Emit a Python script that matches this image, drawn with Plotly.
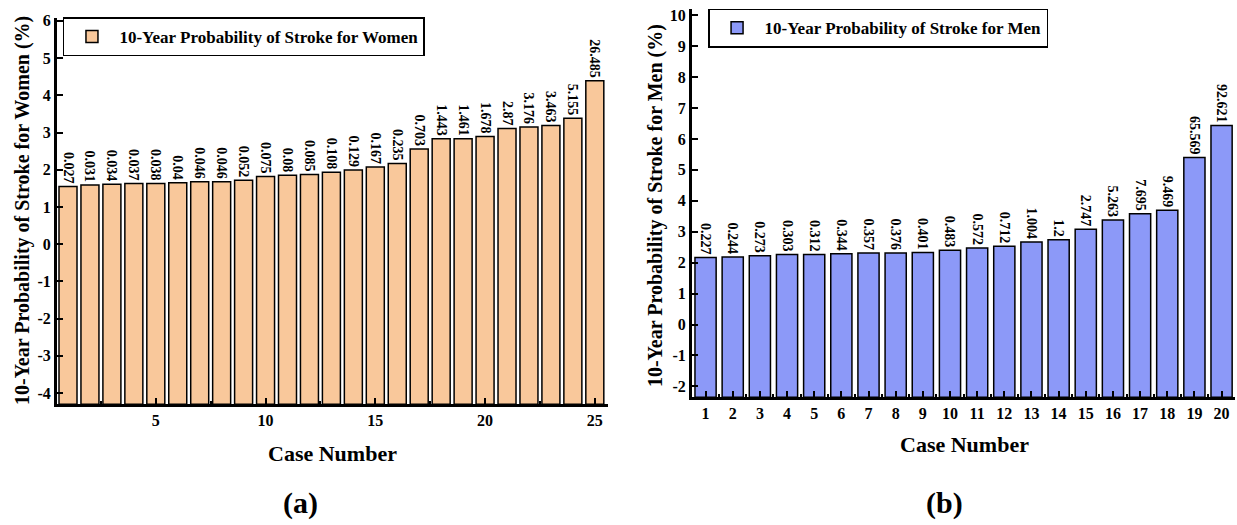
import plotly.graph_objects as go

# ---------------- data ----------------
women_cases = list(range(1, 26))
women_heights = [1.55, 1.59, 1.61, 1.63, 1.63, 1.65, 1.68, 1.68, 1.72, 1.82,
                 1.85, 1.87, 1.93, 1.99, 2.07, 2.17, 2.56, 2.83, 2.83, 2.89,
                 3.11, 3.15, 3.19, 3.38, 4.39]
women_labels = ["0.027", "0.031", "0.034", "0.037", "0.038", "0.04", "0.046", "0.046",
                "0.052", "0.075", "0.08", "0.085", "0.108", "0.129", "0.167", "0.235",
                "0.703", "1.443", "1.461", "1.678", "2.87", "3.176", "3.463", "5.155",
                "26.485"]

men_cases = list(range(1, 21))
men_heights = [2.17, 2.18, 2.22, 2.26, 2.26, 2.29, 2.31, 2.31, 2.33, 2.40,
               2.47, 2.53, 2.67, 2.74, 3.08, 3.38, 3.58, 3.69, 5.40, 6.43]
men_labels = ["0.227", "0.244", "0.273", "0.303", "0.312", "0.344", "0.357", "0.376",
              "0.401", "0.483", "0.572", "0.712", "1.004", "1.2", "2.747", "5.263",
              "7.695", "9.469", "65.569", "92.621"]

women_ticks = [5, 10, 15, 20, 25]
women_yticks = list(range(-4, 7))
men_yticks = list(range(-2, 11))

WOMEN_BASE = -4.3
MEN_BASE = -2.35

FONT = "Liberation Serif, Times New Roman, serif"
W_COLOR = "#F9C89B"
M_COLOR = "#8C99F8"

fig = go.Figure()

fig.add_trace(go.Bar(
    x=women_cases, y=[h - WOMEN_BASE for h in women_heights], base=WOMEN_BASE,
    marker=dict(color=W_COLOR, line=dict(color="black", width=1.5)),
    width=0.82,
    text=women_labels, textposition="outside", textangle=90,
    constraintext="none", cliponaxis=False,
    textfont=dict(family=FONT, size=14, color="black", weight="bold"),
    name="10-Year Probability of Stroke for Women",
    xaxis="x", yaxis="y", legend="legend",
))

fig.add_trace(go.Bar(
    x=men_cases, y=[h - MEN_BASE for h in men_heights], base=MEN_BASE,
    marker=dict(color=M_COLOR, line=dict(color="black", width=1.5)),
    width=0.78,
    text=men_labels, textposition="outside", textangle=90,
    constraintext="none", cliponaxis=False,
    textfont=dict(family=FONT, size=14, color="black", weight="bold"),
    name="10-Year Probability of Stroke for Men",
    xaxis="x2", yaxis="y2", legend="legend2",
))

tickfont = dict(family=FONT, size=16, color="black", weight="bold")
axis_common = dict(
    showline=True, linecolor="black", linewidth=3, mirror=False,
    ticks="inside", ticklen=6, tickwidth=2, tickcolor="black",
    showgrid=False, zeroline=False, tickfont=tickfont,
)
frame_common = dict(showline=True, linecolor="black", linewidth=1.5,
                    showticklabels=False, ticks="", showgrid=False, zeroline=False)

W_XDOM = [0.0461, 0.4915]
W_YDOM = [0.2324, 0.9752]
M_XDOM = [0.5594, 0.9985]
M_YDOM = [0.2457, 0.9924]
W_XR = [0.5, 25.6]
W_YR = [WOMEN_BASE, 6.08]
M_XR = [0.5, 20.5]
M_YR = [MEN_BASE, 10.2]

legend_font = dict(family=FONT, size=17, color="black", weight="bold")

fig.update_layout(
    width=1237, height=525,
    margin=dict(l=0, r=0, t=0, b=0),
    paper_bgcolor="white", plot_bgcolor="white",
    barmode="overlay",
    xaxis=dict(domain=W_XDOM, range=W_XR, tickvals=women_ticks, anchor="y",
               minor=dict(ticks="inside", dtick=2.5, tick0=0, ticklen=3,
                          tickwidth=1.5, tickcolor="black", showgrid=False),
               **axis_common),
    yaxis=dict(domain=W_YDOM, range=W_YR, tickvals=women_yticks,
               ticktext=[str(v) for v in women_yticks], anchor="x", **axis_common),
    xaxis2=dict(domain=M_XDOM, range=M_XR, tickvals=men_cases, anchor="y2",
                minor=dict(ticks="inside", dtick=0.5, tick0=0, ticklen=3,
                           tickwidth=1.5, tickcolor="black", showgrid=False),
                **axis_common),
    yaxis2=dict(domain=M_YDOM, range=M_YR, tickvals=men_yticks,
                ticktext=[str(v) for v in men_yticks], anchor="x2", **axis_common),
    # thin top/right frame lines
    xaxis3=dict(domain=W_XDOM, range=W_XR, overlaying="x", side="top", anchor="y", **frame_common),
    yaxis3=dict(domain=W_YDOM, range=W_YR, overlaying="y", side="right", anchor="x", **frame_common),
    xaxis4=dict(domain=M_XDOM, range=M_XR, overlaying="x2", side="top", anchor="y2", **frame_common),
    yaxis4=dict(domain=M_YDOM, range=M_YR, overlaying="y2", side="right", anchor="x2", **frame_common),
    legend=dict(x=0.0509, y=0.976, xanchor="left", yanchor="top", itemwidth=45,
                bgcolor="white", bordercolor="black", borderwidth=1.5, font=legend_font),
    legend2=dict(x=0.5724, y=0.993, xanchor="left", yanchor="top", itemwidth=45,
                 bgcolor="white", bordercolor="black", borderwidth=1.5, font=legend_font),
    showlegend=True,
)

title_font = dict(family=FONT, size=20, color="black", weight="bold")
case_font = dict(family=FONT, size=22, color="black", weight="bold")
big_font = dict(family=FONT, size=30, color="black", weight="bold")

anns = [
    dict(text="10-Year Probability of Stroke for Women (%)", x=22 / 1237, y=1 - 208 / 525,
         textangle=-90, font=title_font),
    dict(text="10-Year Probability of Stroke for Men (%)", x=655 / 1237, y=1 - 203 / 525,
         textangle=-90, font=title_font),
    dict(text="Case Number", x=332 / 1237, y=1 - 453 / 525, font=case_font),
    dict(text="Case Number", x=964 / 1237, y=1 - 444 / 525, font=case_font),
    dict(text="(a)", x=300 / 1237, y=1 - 503 / 525, font=big_font),
    dict(text="(b)", x=944 / 1237, y=1 - 503 / 525, font=big_font),
]
for a in anns:
    fig.add_annotation(xref="paper", yref="paper", showarrow=False,
                       xanchor="center", yanchor="middle", **a)

fig.write_html("out.html", config={"displayModeBar": False},
               post_script="document.body.style.margin='0';")
